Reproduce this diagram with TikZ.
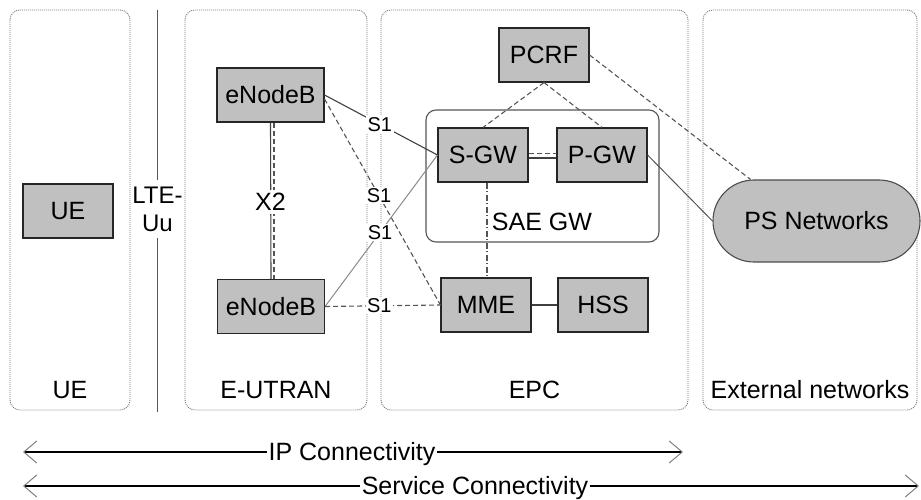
\documentclass[tikz,border=0pt]{standalone}
\usepackage{fontspec}
\setmainfont{Liberation Sans}
\usetikzlibrary{arrows.meta}
\definecolor{boxfill}{HTML}{C0C0C0}
\definecolor{linegray}{HTML}{555555}
\definecolor{lightline}{HTML}{8A8A8A}
\definecolor{dotgray}{HTML}{7A7A7A}
\begin{document}
\begin{tikzpicture}[x=1bp,y=-1bp,
  every node/.style={font=\fontsize{25bp}{27bp}\selectfont, text=black,
    text height=17.6bp, text depth=0bp},
  netbox/.style={draw=black!85, line width=1.1bp, fill=boxfill,
    minimum width=90bp, minimum height=54bp, inner sep=0pt},
  widebox/.style={netbox, minimum width=107bp},
  psnet/.style={draw=black!70, line width=1.1bp, fill=boxfill,
    minimum width=207bp, minimum height=82bp, rounded corners=41bp, inner sep=0pt},
  container/.style={draw=linegray, line width=1.1bp, rounded corners=10bp,
    inner sep=0pt},
  domainbox/.style={draw=dotgray, dash pattern=on 1bp off 1bp, line width=0.9bp,
    rounded corners=10bp},
  slabel/.style={font=\fontsize{20bp}{22bp}\selectfont, text height=14.2bp,
    fill=white, inner sep=1.5bp},
  textlabel/.style={fill=white, inner xsep=1.5bp, inner ysep=2bp},
  solidlink/.style={draw=black!75, line width=1.1bp},
  thinlink/.style={draw=lightline, line width=1bp},
  dashlink/.style={draw=linegray, line width=1.1bp, dash pattern=on 5bp off 3bp},
  dashdotlink/.style={draw=linegray, line width=1.1bp,
    dash pattern=on 6bp off 2.5bp on 1bp off 2.5bp},
  uuline/.style={draw=linegray, line width=1.4bp},
  span/.style={draw=black, line width=1.3bp,
    {Straight Barb[length=13bp,width=22bp,color=gray,line width=1bp]}-{Straight Barb[length=13bp,width=22bp,color=gray,line width=1bp]}}
]
\useasboundingbox (0,0) rectangle (921,500);

% domain frames
\draw[domainbox] (10,10) rectangle (130,410);
\draw[domainbox] (185,10) rectangle (367,410);
\draw[domainbox] (381,10) rectangle (688,410);
\draw[domainbox] (703,10) rectangle (917,410);

% domain titles
\node (tue) at (70,390) {UE};
\node (tran) at (276,390) {E-UTRAN};
\node (tepc) at (534.5,390) {EPC};
\node (text) at (810,390) {External networks};

% radio interface
\node[font=\fontsize{24bp}{28.4bp}\selectfont, text height=, text depth=,
      align=center, inner xsep=0pt, inner ysep=6bp] (lteuu) at (157.5,209.2) {LTE-\\Uu};
\coordinate (lteTop) at (157.5,10);
\coordinate (lteBot) at (157.5,412);
\draw[uuline] (lteTop) -- (lteuu.north);
\draw[uuline] (lteuu.south) -- (lteBot);

% SAE gateway container
\node[container, minimum width=233bp, minimum height=132bp] (sae) at (542.5,176) {};
\node (saelabel) at (542,222) {SAE GW};

% network elements
\node[netbox] (ue) at (68,211) {UE};
\node[widebox] (enbA) at (270.5,95) {eNodeB};
\node[widebox] (enbB) at (271,306.5) {eNodeB};
\node[netbox] (pcrf) at (544,55) {PCRF};
\node[netbox] (sgw) at (483,155) {S-GW};
\node[netbox] (pgw) at (602,155) {P-GW};
\node[netbox] (mme) at (486,305) {MME};
\node[netbox] (hss) at (603,305) {HSS};
\node[psnet] (ps) at (816.5,221) {PS Networks};

% X2 between the eNodeBs
\draw[solidlink] (enbA.south) -- (enbB.south |- enbB.north);
\draw[dashlink] ([xshift=3.5bp]enbA.south) -- ([xshift=3bp]enbB.north);
\node[fill=white, inner xsep=0pt, inner ysep=3bp] (x2) at (270.5,202) {X2};

% S1 interfaces
\draw[solidlink] (enbA.east) -- (sgw.west) node[slabel, pos=0.49] (s1a) {S1};
\draw[dashlink] ([yshift=-4bp]enbA.east) -- (mme.west) node[slabel, pos=0.47] (s1b) {S1};
\draw[thinlink] (enbB.east) -- (sgw.west) node[slabel, pos=0.49] (s1c) {S1};
\draw[dashlink] (enbB.east) -- (mme.west) node[slabel, pos=0.47] (s1d) {S1};

% core links
\draw[dashlink] (pcrf.south) -- (sgw.north);
\draw[dashlink] (pcrf.south) -- (pgw.north);
\draw[dashlink] (pcrf.east) -- ([xshift=-66bp]ps.north);
\draw[dashlink] ([yshift=1.3bp]sgw.east) -- ([yshift=1.3bp]pgw.west);
\draw[solidlink] ([yshift=-3bp]sgw.east) -- ([yshift=-3bp]pgw.west);
\draw[thinlink, draw=linegray] (pgw.east) -- (ps.west);
\draw[dashdotlink] ([xshift=1bp]mme.north |- sgw.south) -- ([xshift=1bp]mme.north);
\draw[solidlink] (mme.east) -- (hss.west);

% connectivity spans
\coordinate (ipL) at (23,452);
\coordinate (ipR) at (683,452);
\draw[span] (ipL) -- (ipR) node[textlabel, pos=0.4985] (iplabel) {IP Connectivity};
\coordinate (svL) at (23,486);
\coordinate (svR) at (919,486);
\draw[span] (svL) -- (svR) node[textlabel, pos=0.5045] (svlabel) {Service Connectivity};
\end{tikzpicture}
\end{document}
